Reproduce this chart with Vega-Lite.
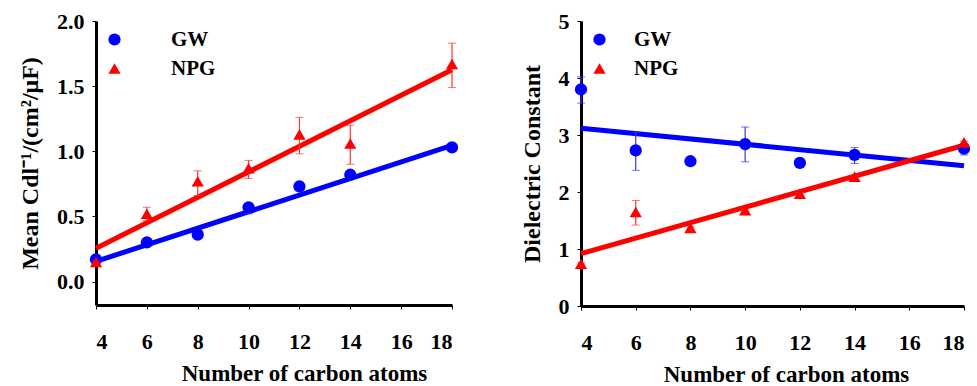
{
  "$schema": "https://vega.github.io/schema/vega-lite/v6.json",
  "padding": {"left": 18, "top": 10, "right": 0, "bottom": 0},
  "background": "white",
  "spacing": 58,
  "datasets": {
    "leftPts": [
      {"n": 4, "series": "GW", "y": 0.17, "lo": 0.15, "hi": 0.19},
      {"n": 6, "series": "GW", "y": 0.30, "lo": 0.28, "hi": 0.31},
      {"n": 8, "series": "GW", "y": 0.36, "lo": 0.34, "hi": 0.38},
      {"n": 10, "series": "GW", "y": 0.57, "lo": 0.52, "hi": 0.60},
      {"n": 12, "series": "GW", "y": 0.73, "lo": 0.72, "hi": 0.75},
      {"n": 14, "series": "GW", "y": 0.82, "lo": 0.80, "hi": 0.84},
      {"n": 18, "series": "GW", "y": 1.03, "lo": 1.00, "hi": 1.06},
      {"n": 4, "series": "NPG", "y": 0.15, "lo": 0.13, "hi": 0.17},
      {"n": 6, "series": "NPG", "y": 0.52, "lo": 0.47, "hi": 0.57},
      {"n": 8, "series": "NPG", "y": 0.77, "lo": 0.66, "hi": 0.85},
      {"n": 10, "series": "NPG", "y": 0.87, "lo": 0.79, "hi": 0.93},
      {"n": 12, "series": "NPG", "y": 1.13, "lo": 0.98, "hi": 1.26},
      {"n": 14, "series": "NPG", "y": 1.06, "lo": 0.90, "hi": 1.20},
      {"n": 18, "series": "NPG", "y": 1.67, "lo": 1.49, "hi": 1.83}
    ],
    "leftFit": [
      {"n": 4, "series": "GW", "y": 0.155},
      {"n": 18, "series": "GW", "y": 1.045},
      {"n": 4, "series": "NPG", "y": 0.255},
      {"n": 18, "series": "NPG", "y": 1.625}
    ],
    "rightPts": [
      {"n": 4, "series": "GW", "y": 3.80, "lo": 3.56, "hi": 4.02},
      {"n": 6, "series": "GW", "y": 2.73, "lo": 2.38, "hi": 3.05},
      {"n": 8, "series": "GW", "y": 2.54, "lo": 2.52, "hi": 2.56},
      {"n": 10, "series": "GW", "y": 2.84, "lo": 2.53, "hi": 3.14},
      {"n": 12, "series": "GW", "y": 2.51, "lo": 2.49, "hi": 2.53},
      {"n": 14, "series": "GW", "y": 2.65, "lo": 2.50, "hi": 2.78},
      {"n": 18, "series": "GW", "y": 2.76, "lo": 2.65, "hi": 2.85},
      {"n": 4, "series": "NPG", "y": 0.74, "lo": 0.72, "hi": 0.76},
      {"n": 6, "series": "NPG", "y": 1.65, "lo": 1.42, "hi": 1.85},
      {"n": 8, "series": "NPG", "y": 1.37, "lo": 1.35, "hi": 1.39},
      {"n": 10, "series": "NPG", "y": 1.68, "lo": 1.66, "hi": 1.70},
      {"n": 12, "series": "NPG", "y": 1.97, "lo": 1.95, "hi": 1.99},
      {"n": 14, "series": "NPG", "y": 2.27, "lo": 2.25, "hi": 2.29},
      {"n": 18, "series": "NPG", "y": 2.87, "lo": 2.85, "hi": 2.89}
    ],
    "rightFit": [
      {"n": 4, "series": "GW", "y": 3.12},
      {"n": 18, "series": "GW", "y": 2.46},
      {"n": 4, "series": "NPG", "y": 0.92},
      {"n": 18, "series": "NPG", "y": 2.82}
    ]
  },
  "hconcat": [
    {
      "width": 356,
      "height": 284,
      "encoding": {
        "x": {"field": "n", "type": "quantitative", "title": "Number of carbon atoms",
          "scale": {"domain": [4, 18], "nice": false},
          "axis": {"values": [4, 6, 8, 10, 12, 14, 16, 18], "titleX": 208}},
        "y": {"field": "y", "type": "quantitative", "title": "Mean Cdl⁻¹/(cm²/μF)",
          "scale": {"domain": [-0.18, 2], "nice": false, "zero": false},
          "axis": {"values": [0, 0.5, 1, 1.5, 2], "format": ".1f"}}
      },
      "layer": [
        {
          "data": {"name": "leftFit"},
          "transform": [{"filter": "datum.series === 'GW'"}],
          "mark": {"type": "line", "strokeWidth": 5, "color": "#0000FF"}
        },
        {
          "data": {"name": "leftFit"},
          "transform": [{"filter": "datum.series === 'NPG'"}],
          "mark": {"type": "line", "strokeWidth": 5, "color": "#FF0000"}
        },
        {
          "data": {"name": "leftPts"},
          "transform": [{"filter": "datum.series === 'GW'"}],
          "mark": {"type": "errorbar", "color": "#3333FF", "ticks": {"size": 8}, "rule": {"strokeWidth": 1.2}},
          "encoding": {
            "y": {"field": "lo", "type": "quantitative", "title": "Mean Cdl⁻¹/(cm²/μF)"},
            "y2": {"field": "hi"}
          }
        },
        {
          "data": {"name": "leftPts"},
          "transform": [{"filter": "datum.series === 'NPG'"}],
          "mark": {"type": "errorbar", "color": "#FF3333", "ticks": {"size": 8}, "rule": {"strokeWidth": 1.2}},
          "encoding": {
            "y": {"field": "lo", "type": "quantitative", "title": "Mean Cdl⁻¹/(cm²/μF)"},
            "y2": {"field": "hi"}
          }
        },
        {
          "data": {"name": "leftPts"},
          "mark": {"type": "point", "filled": true, "opacity": 1, "size": 150},
          "encoding": {
            "color": {"field": "series", "type": "nominal", "title": null,
              "scale": {"domain": ["GW", "NPG"], "range": ["#0000FF", "#FF0000"]},
              "legend": {"orient": "top-left", "offset": 8, "labelOffset": 46, "rowPadding": 7}},
            "shape": {"field": "series", "type": "nominal", "title": null,
              "scale": {"domain": ["GW", "NPG"], "range": ["circle", "triangle-up"]},
              "legend": {"orient": "top-left", "offset": 8, "labelOffset": 46, "rowPadding": 7}}
          }
        }
      ]
    },
    {
      "width": 383,
      "height": 285,
      "encoding": {
        "x": {"field": "n", "type": "quantitative", "title": "Number of carbon atoms",
          "scale": {"domain": [4, 18], "nice": false},
          "axis": {"values": [4, 6, 8, 10, 12, 14, 16, 18], "titleX": 205}},
        "y": {"field": "y", "type": "quantitative", "title": "Dielectric Constant",
          "scale": {"domain": [0, 5], "nice": false},
          "axis": {"values": [0, 1, 2, 3, 4, 5], "format": "d"}}
      },
      "layer": [
        {
          "data": {"name": "rightFit"},
          "transform": [{"filter": "datum.series === 'GW'"}],
          "mark": {"type": "line", "strokeWidth": 5, "color": "#0000FF"}
        },
        {
          "data": {"name": "rightFit"},
          "transform": [{"filter": "datum.series === 'NPG'"}],
          "mark": {"type": "line", "strokeWidth": 5, "color": "#FF0000"}
        },
        {
          "data": {"name": "rightPts"},
          "transform": [{"filter": "datum.series === 'GW'"}],
          "mark": {"type": "errorbar", "color": "#3333FF", "ticks": {"size": 8}, "rule": {"strokeWidth": 1.2}},
          "encoding": {
            "y": {"field": "lo", "type": "quantitative", "title": "Dielectric Constant"},
            "y2": {"field": "hi"}
          }
        },
        {
          "data": {"name": "rightPts"},
          "transform": [{"filter": "datum.series === 'NPG'"}],
          "mark": {"type": "errorbar", "color": "#FF3333", "ticks": {"size": 8}, "rule": {"strokeWidth": 1.2}},
          "encoding": {
            "y": {"field": "lo", "type": "quantitative", "title": "Dielectric Constant"},
            "y2": {"field": "hi"}
          }
        },
        {
          "data": {"name": "rightPts"},
          "mark": {"type": "point", "filled": true, "opacity": 1, "size": 150},
          "encoding": {
            "color": {"field": "series", "type": "nominal", "title": null,
              "scale": {"domain": ["GW", "NPG"], "range": ["#0000FF", "#FF0000"]},
              "legend": {"orient": "top-left", "offset": 8, "labelOffset": 24, "rowPadding": 7}},
            "shape": {"field": "series", "type": "nominal", "title": null,
              "scale": {"domain": ["GW", "NPG"], "range": ["circle", "triangle-up"]},
              "legend": {"orient": "top-left", "offset": 8, "labelOffset": 24, "rowPadding": 7}}
          }
        }
      ]
    }
  ],
  "resolve": {"scale": {"color": "independent", "shape": "independent", "x": "independent", "y": "independent"}},
  "config": {
    "view": {"stroke": null},
    "font": "Liberation Serif",
    "axis": {
      "grid": false,
      "domainColor": "black",
      "domainWidth": 3,
      "tickColor": "black",
      "tickWidth": 1,
      "tickSize": 4,
      "labelFont": "Liberation Serif",
      "labelFontWeight": "bold",
      "labelFontSize": 22,
      "labelColor": "black",
      "titleFont": "Liberation Serif",
      "titleFontWeight": "bold",
      "titleFontSize": 23,
      "titleColor": "black"
    },
    "axisX": {"labelPadding": 22, "titlePadding": 10},
    "axisY": {"labelPadding": 8, "titlePadding": 14, "titleFontSize": 24},
    "legend": {
      "labelFont": "Liberation Serif",
      "labelFontWeight": "bold",
      "labelFontSize": 21,
      "labelColor": "black",
      "symbolSize": 150,
      "symbolStrokeWidth": 0
    }
  }
}
